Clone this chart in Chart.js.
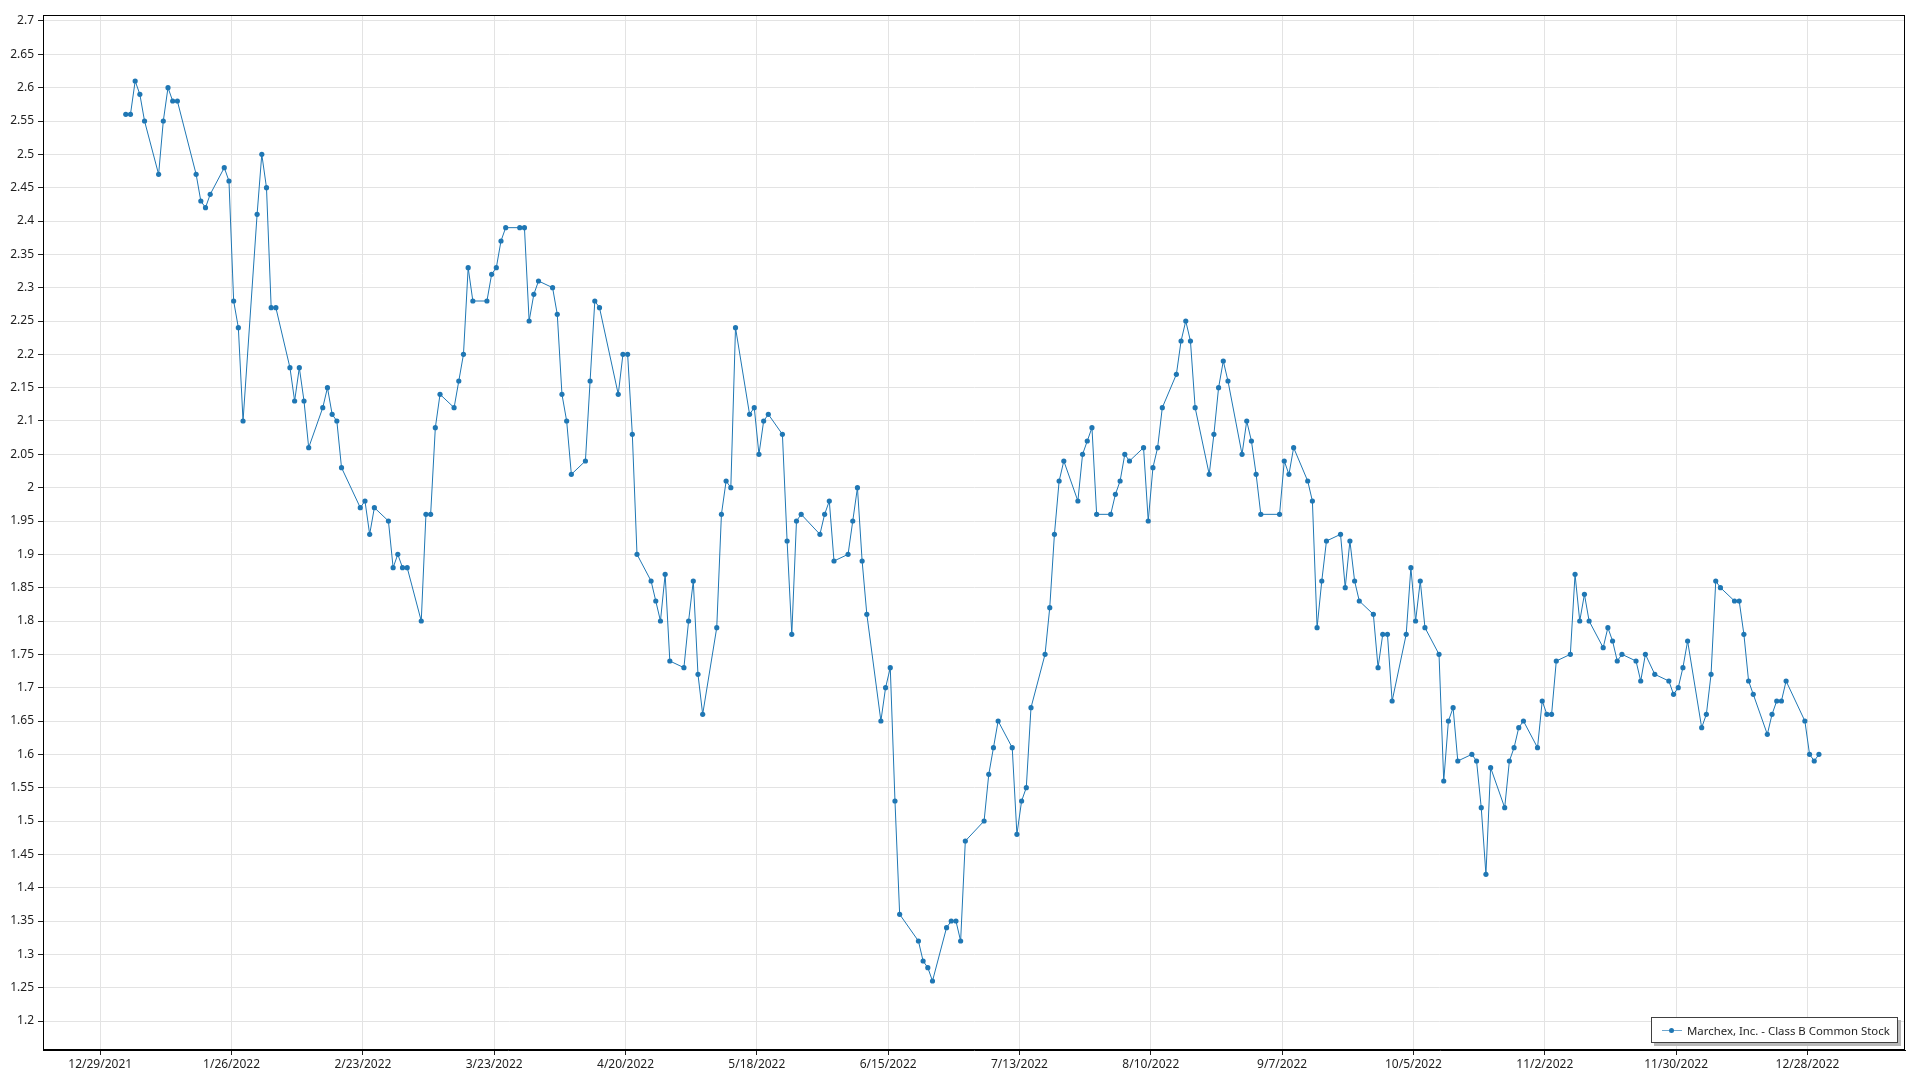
<!DOCTYPE html>
<html>
<head>
<meta charset="utf-8">
<title>Marchex, Inc. - Class B Common Stock</title>
<script src="https://cdn.jsdelivr.net/npm/chart.js@4.4.1/dist/chart.umd.min.js"></script>
<style>
  html, body { margin: 0; padding: 0; background: #fff; }
  #omot { position: relative; width: 1920px; height: 1080px; }
  #legenda {
    position: absolute; left: 1651px; top: 1017px;
    width: 247px; height: 26px; box-sizing: border-box;
    border: 1px solid #404040; background: #fff;
    box-shadow: 3px 3px 0 #b9b9b9;
    font: 11.4px 'Segoe UI', 'Noto Sans', sans-serif; color: #1e1e1e;
    white-space: nowrap; overflow: hidden;
    display: flex; align-items: center;
  }
  #legenda .znak { position: relative; flex: none; width: 20px; height: 10px; margin: 0 5px 0 10px; }
  #legenda .znak::before {
    content: ''; position: absolute; left: 0; right: 0; top: 5px; height: 1px;
    background: rgba(31, 119, 180, 0.65);
  }
  #legenda .znak::after {
    content: ''; position: absolute; left: 7px; top: 3px; width: 5px; height: 5px;
    border-radius: 50%; background: #1f77b4;
  }
</style>
</head>
<body>
<div id="omot">
  <canvas id="graf" width="1920" height="1080"></canvas>
  <div id="legenda"><span class="znak"></span>Marchex, Inc. - Class B Common Stock</div>
</div>
<script>
// cijene zatvaranja po mjesecima (2022.)
const sijecanj = [2.56, 2.56, 2.61, 2.59, 2.55, 2.47, 2.55, 2.60, 2.58, 2.58, 2.47, 2.43, 2.42, 2.44, 2.48, 2.46, 2.28, 2.24, 2.10, 2.41];
const veljaca = [2.50, 2.45, 2.27, 2.27, 2.18, 2.13, 2.18, 2.13, 2.06, 2.12, 2.15, 2.11, 2.10, 2.03, 1.97, 1.98, 1.93, 1.97, 1.95];
const ozujak = [1.88, 1.90, 1.88, 1.88, 1.80, 1.96, 1.96, 2.09, 2.14, 2.12, 2.16, 2.20, 2.33, 2.28, 2.28, 2.32, 2.33, 2.37, 2.39, 2.39, 2.39, 2.25, 2.29];
const travanj = [2.31, 2.30, 2.26, 2.14, 2.10, 2.02, 2.04, 2.16, 2.28, 2.27, 2.14, 2.20, 2.20, 2.08, 1.90, 1.86, 1.83, 1.80, 1.87, 1.74];
const svibanj = [1.73, 1.80, 1.86, 1.72, 1.66, 1.79, 1.96, 2.01, 2.00, 2.24, 2.11, 2.12, 2.05, 2.10, 2.11, 2.08, 1.92, 1.78, 1.95, 1.96, 1.93];
const lipanj = [1.96, 1.98, 1.89, 1.90, 1.95, 2.00, 1.89, 1.81, 1.65, 1.70, 1.73, 1.53, 1.36, 1.32, 1.29, 1.28, 1.26, 1.34, 1.35, 1.35, 1.32];
const srpanj = [1.47, 1.50, 1.57, 1.61, 1.65, 1.61, 1.48, 1.53, 1.55, 1.67, 1.75, 1.82, 1.93, 2.01, 2.04, 1.98, 2.05, 2.07, 2.09, 1.96];
const kolovoz = [1.96, 1.99, 2.01, 2.05, 2.04, 2.06, 1.95, 2.03, 2.06, 2.12, 2.17, 2.22, 2.25, 2.22, 2.12, 2.02, 2.08, 2.15, 2.19, 2.16, 2.05, 2.10, 2.07];
const rujan = [2.02, 1.96, 1.96, 2.04, 2.02, 2.06, 2.01, 1.98, 1.79, 1.86, 1.92, 1.93, 1.85, 1.92, 1.86, 1.83, 1.81, 1.73, 1.78, 1.78, 1.68];
const listopad = [1.78, 1.88, 1.80, 1.86, 1.79, 1.75, 1.56, 1.65, 1.67, 1.59, 1.60, 1.59, 1.52, 1.42, 1.58, 1.52, 1.59, 1.61, 1.64, 1.65, 1.61];
const studeni = [1.68, 1.66, 1.66, 1.74, 1.75, 1.87, 1.80, 1.84, 1.80, 1.76, 1.79, 1.77, 1.74, 1.75, 1.74, 1.71, 1.75, 1.72, 1.71, 1.69, 1.70];
const prosinac = [1.73, 1.77, 1.64, 1.66, 1.72, 1.86, 1.85, 1.83, 1.83, 1.78, 1.71, 1.69, 1.63, 1.66, 1.68, 1.68, 1.71, 1.65, 1.60, 1.59, 1.60];

// dani kad burza ne radi
const praznici = ['2022-01-17', '2022-02-21', '2022-04-15', '2022-05-30', '2022-06-20', '2022-07-04', '2022-09-05', '2022-11-24', '2022-12-26'];

// oznake osi x - svakih 28 dana od 29.12.2021.
const pocetak = new Date(2021, 11, 29);
const xOznake = [0, 28, 56, 84, 112, 140, 168, 196, 224, 252, 280, 308, 336, 364];

// oznake osi y
const yOznake = [1.2, 1.25, 1.3, 1.35, 1.4, 1.45, 1.5, 1.55, 1.6, 1.65, 1.7, 1.75, 1.8, 1.85, 1.9, 1.95,
  2, 2.05, 2.1, 2.15, 2.2, 2.25, 2.3, 2.35, 2.4, 2.45, 2.5, 2.55, 2.6, 2.65, 2.7];

const naziv = 'Marchex, Inc. - Class B Common Stock';

// zapis je oko podneva pa točka stoji malo desno od ponoći
const pomak = 0.45;

const dvije = n => String(n).padStart(2, '0');
const iso = d => `${d.getFullYear()}-${dvije(d.getMonth() + 1)}-${dvije(d.getDate())}`;
const danOd = d => Math.round((d - pocetak) / 86400000);

// radni dani u 2022.
function radniDani() {
  const dani = [];
  for (let d = new Date(2022, 0, 1); d.getFullYear() === 2022; d.setDate(d.getDate() + 1)) {
    const t = d.getDay();
    if (t === 0 || t === 6 || praznici.includes(iso(d))) continue;
    dani.push(new Date(d));
  }
  return dani;
}

const cijene = [...sijecanj, ...veljaca, ...ozujak, ...travanj, ...svibanj, ...lipanj,
  ...srpanj, ...kolovoz, ...rujan, ...listopad, ...studeni, ...prosinac];
const tocke = radniDani().map((d, i) => ({ x: danOd(d) + pomak, y: cijene[i] }));

// formatiranje datuma za os x
const fmt = v => {
  const d = new Date(2021, 11, 29 + v);
  return `${d.getMonth() + 1}/${d.getDate()}/${d.getFullYear()}`;
};

// okvir oko područja grafa
const okvir = {
  id: 'okvir',
  afterDraw(chart) {
    const { ctx, chartArea: a } = chart;
    ctx.save();
    ctx.strokeStyle = '#000';
    ctx.lineWidth = 1;
    ctx.strokeRect(Math.round(a.left) + 0.5, Math.round(a.top) + 0.5,
      Math.round(a.right - a.left) - 1, Math.round(a.bottom - a.top) - 1);
    ctx.restore();
  }
};

const font = { family: "'Segoe UI', 'Noto Sans', sans-serif", size: 12 };
const mreza = { color: '#e3e3e3', tickColor: '#222', tickLength: 5 };

new Chart(document.getElementById('graf').getContext('2d'), {
  type: 'line',
  data: {
    datasets: [{
      label: naziv,
      data: tocke,
      borderColor: '#1f77b4',
      backgroundColor: '#1f77b4',
      borderWidth: 1,
      pointRadius: 2.6,
      pointBorderWidth: 0,
      pointHoverRadius: 2.6,
      tension: 0
    }]
  },
  options: {
    responsive: false,
    animation: false,
    layout: { padding: { top: 15, right: 15, left: 0, bottom: 0 } },
    plugins: { legend: { display: false }, tooltip: { enabled: false } },
    scales: {
      x: {
        type: 'linear',
        min: -12.2,
        max: 384.8,
        afterBuildTicks: s => { s.ticks = xOznake.map(v => ({ value: v })); },
        afterFit: s => { s.height = 30; },
        grid: mreza,
        border: { color: '#000' },
        ticks: { callback: fmt, color: '#1e1e1e', font, maxRotation: 0, autoSkip: false, padding: 2 }
      },
      y: {
        min: 1.1565,
        max: 2.709,
        afterBuildTicks: s => { s.ticks = yOznake.map(v => ({ value: v })); },
        afterFit: s => { s.width = 43; },
        grid: mreza,
        border: { color: '#000' },
        ticks: { callback: v => String(+v.toFixed(2)), color: '#1e1e1e', font, autoSkip: false, padding: 4 }
      }
    }
  },
  plugins: [okvir]
});
</script>
</body>
</html>
